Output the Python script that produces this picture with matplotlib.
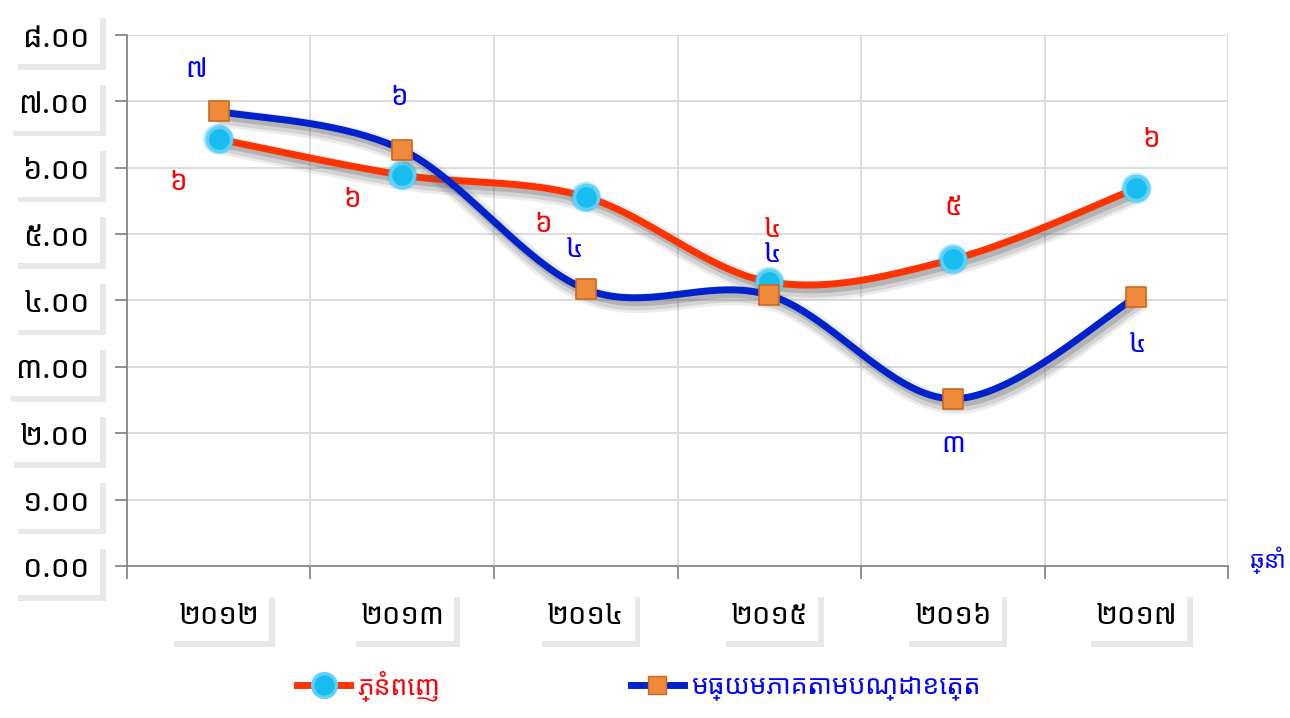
import numpy as np
import matplotlib.pyplot as plt
import matplotlib.patheffects as pe
from matplotlib.lines import Line2D

plt.rcParams['font.family'] = ['Noto Sans Khmer', 'Khmer OS', 'Khmer OS System', 'DejaVu Sans']

# ទិន្នន័យ
years = ['២០១២', '២០១៣', '២០១៤', '២០១៥', '២០១៦', '២០១៧']
phnom_penh = [6.43, 5.89, 5.56, 4.28, 4.62, 5.69]
provinces = [6.85, 6.27, 4.17, 4.08, 2.52, 4.05]
pp_labels = ['៦', '៦', '៦', '៤', '៥', '៦']
prov_labels = ['៧', '៦', '៤', '៤', '៣', '៤']
y_ticklabels = ['០.០០', '១.០០', '២.០០', '៣.០០', '៤.០០', '៥.០០', '៦.០០', '៧.០០', '៨.០០']
series_names = ['ភ្នំពេញ', 'មធ្យមភាគតាមបណ្ដាខេត្ត']
axis_title = 'ឆ្នាំ'

RED = '#FF3300'
BLUE = '#0022CC'


def smooth(x, y, n=40):
    # Bezier smoothing through the points (Excel-like)
    x = np.asarray(x, float)
    y = np.asarray(y, float)
    px, py = [], []
    for i in range(len(x) - 1):
        x0, y0 = (x[i - 1], y[i - 1]) if i > 0 else (x[i], y[i])
        x3, y3 = (x[i + 2], y[i + 2]) if i + 2 < len(x) else (x[i + 1], y[i + 1])
        c1x = x[i] + (x[i + 1] - x0) / 6
        c1y = y[i] + (y[i + 1] - y0) / 6
        c2x = x[i + 1] - (x3 - x[i]) / 6
        c2y = y[i + 1] - (y3 - y[i]) / 6
        t = np.linspace(0, 1, n)
        px.append((1 - t) ** 3 * x[i] + 3 * (1 - t) ** 2 * t * c1x + 3 * (1 - t) * t ** 2 * c2x + t ** 3 * x[i + 1])
        py.append((1 - t) ** 3 * y[i] + 3 * (1 - t) ** 2 * t * c1y + 3 * (1 - t) * t ** 2 * c2y + t ** 3 * y[i + 1])
    return np.concatenate(px), np.concatenate(py)


fig = plt.figure(figsize=(12.9, 7.18), dpi=100)
ax = fig.add_axes([0.0984, 0.2117, 0.8536, 0.7396])

xs = np.arange(len(years)) + 0.5
shadow = [pe.SimpleLineShadow(offset=(2, -4), shadow_color='#666666', alpha=0.12, linewidth=14),
          pe.SimpleLineShadow(offset=(2, -4), shadow_color='#666666', alpha=0.18, linewidth=10),
          pe.SimpleLineShadow(offset=(2, -3), shadow_color='#555555', alpha=0.25, linewidth=6),
          pe.Normal()]

sx, sy = smooth(xs, phnom_penh)
ax.plot(sx, sy, color=RED, lw=5, path_effects=shadow, zorder=3, solid_capstyle='round')
ax.scatter(xs, phnom_penh, s=480, facecolor='#18BDF0', edgecolor='none', alpha=0.35, zorder=4)
ax.scatter(xs, phnom_penh, s=300, facecolor='#18BDF0', edgecolor='#5FD0F8', linewidth=2.5, zorder=4)

sx, sy = smooth(xs, provinces)
ax.plot(sx, sy, color=BLUE, lw=5, path_effects=shadow, zorder=5, solid_capstyle='round')
ax.scatter(xs, provinces, s=190, marker='s', facecolor='#EE8A3A', edgecolor='#C86A25', linewidth=1.2, zorder=6)

# data labels
pp_offsets = [(-41, -44), (-50, -25), (-43, -28), (3, 52), (0, 51), (15, 48)]
prov_offsets = [(-23, 41), (-3, 52), (-11, 39), (3, 40), (0, -46), (1, -48)]
for x, v, lab, off in zip(xs, phnom_penh, pp_labels, pp_offsets):
    ax.annotate(lab, (x, v), xytext=off, textcoords='offset pixels', ha='center', va='center',
                color='#FF0000', fontsize=20, zorder=7)
for x, v, lab, off in zip(xs, provinces, prov_labels, prov_offsets):
    ax.annotate(lab, (x, v), xytext=off, textcoords='offset pixels', ha='center', va='center',
                color='#0000FF', fontsize=20, zorder=7)

ax.set_xlim(0, 6)
ax.set_ylim(0, 8)
ax.set_yticks(range(9))
ax.set_yticklabels(y_ticklabels)
ax.set_xticks(range(7))
ax.set_xticklabels([])
ax.set_xticks(xs, minor=True)
ax.set_xticklabels(years, minor=True)
ax.grid(True, color='#D9D9D9', lw=1.3)
ax.set_axisbelow(True)
for s in ['top', 'right']:
    ax.spines[s].set_visible(False)
for s in ['left', 'bottom']:
    ax.spines[s].set_color('#888888')
    ax.spines[s].set_linewidth(1.3)
ax.tick_params(axis='y', length=9, width=1.3, color='#888888', pad=18, labelsize=22)
ax.tick_params(axis='x', which='major', length=9, width=1.3, color='#888888')
ax.tick_params(axis='x', which='minor', length=0, pad=26, labelsize=21)

box_shadow = [pe.SimplePatchShadow(offset=(4, -4), shadow_rgbFace='#E6E6E6', alpha=0.9), pe.Normal()]
for t in ax.get_yticklabels() + ax.get_xticklabels(minor=True):
    t.set_bbox(dict(boxstyle='square,pad=0.35', facecolor='white', edgecolor='none'))
    t.get_bbox_patch().set_path_effects(box_shadow)

ax.text(1.036, 0.01, axis_title, transform=ax.transAxes, color='#0000FF',
        fontsize=17, fontweight='bold', ha='center', va='center')

handles = [Line2D([], [], color=RED, lw=5, marker='o', markersize=17,
                  markerfacecolor='#18BDF0', markeredgecolor='#5FD0F8', markeredgewidth=2.5),
           Line2D([], [], color=BLUE, lw=5, marker='s', markersize=13,
                  markerfacecolor='#EE8A3A', markeredgecolor='#C86A25')]
leg = fig.legend(handles, series_names, loc='lower left', bbox_to_anchor=(0.212, -0.01), ncol=2,
                 frameon=False, fontsize=19, handlelength=2.0, columnspacing=7.2, handletextpad=0.3)
for txt, c in zip(leg.get_texts(), ['#FF0000', '#0000FF']):
    txt.set_color(c)

fig.savefig('out.png', dpi=100)
